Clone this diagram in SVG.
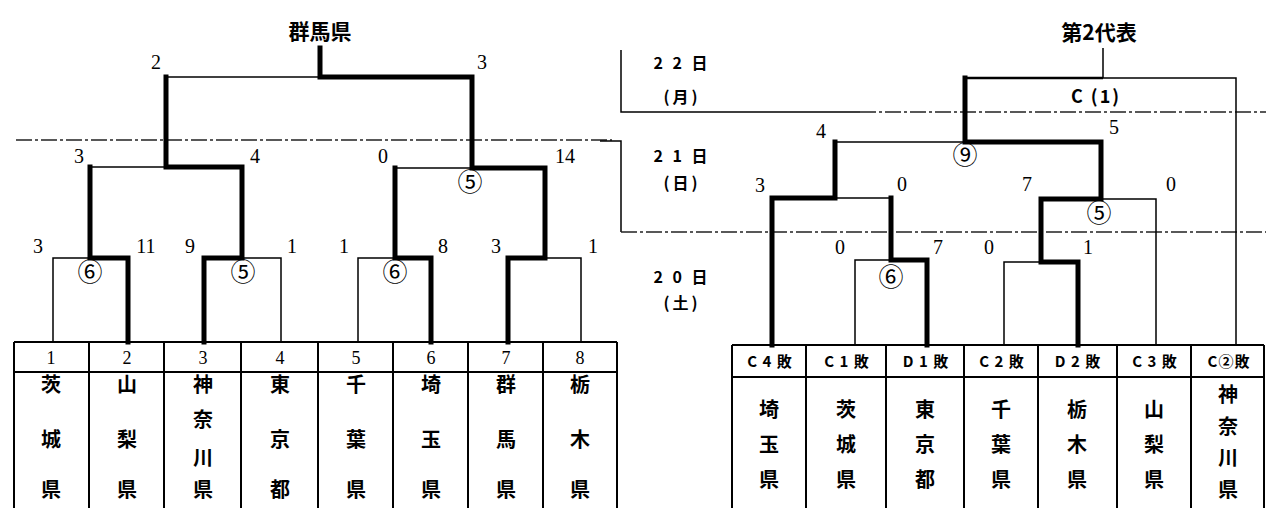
<svg xmlns="http://www.w3.org/2000/svg" width="1266" height="508" viewBox="0 0 1266 508">
<style>
.bg{fill:#fff}
.thick{stroke:#000;stroke-width:5;fill:none;stroke-linejoin:miter;stroke-linecap:square}
.med{stroke:#000;stroke-width:2.5;fill:none}
.thin{stroke:#000;stroke-width:1.5;fill:none}
.dash{stroke:#222;stroke-width:1.5;fill:none;stroke-dasharray:16 3 3 3}
.grid{stroke:#000;stroke-width:2;fill:none}
.sc{font-family:"Liberation Serif",serif;font-size:20px;fill:#000;text-anchor:middle}
.cir{font-family:"Noto Sans CJK JP",sans-serif;font-size:25px;fill:#000;text-anchor:middle}
.jp{font-family:"Noto Sans CJK JP",sans-serif;fill:#000;text-anchor:middle}
.title{font-size:21px;font-weight:bold}
.date{font-size:16px;font-weight:bold;letter-spacing:3px}
.cl{font-size:18px;font-weight:bold;letter-spacing:2px}
.nm{font-size:20px;font-weight:bold}
.hd{font-size:15px;font-weight:bold;letter-spacing:1px}
.num{font-family:"Liberation Serif",serif;font-size:18px;fill:#000;text-anchor:middle}
</style>
<rect class="bg" x="0" y="0" width="1266" height="508"/>

<!-- date separators -->
<g id="date-lines">
<path class="dash" d="M16,140 H612"/>
<path class="thin" d="M600,141 H621 V232"/>
<path class="dash" d="M621,232 H1266"/>
<path class="thin" d="M621,50 V112 H860"/>
<path class="dash" d="M860,112 H1266"/>
</g>
<g id="dates">
<text class="jp date" x="682" y="69">2 2 日</text>
<text class="jp date" x="682" y="103">(月)</text>
<text class="jp date" x="682" y="162">2 1 日</text>
<text class="jp date" x="682" y="189">(日)</text>
<text class="jp date" x="682" y="283">2 0 日</text>
<text class="jp date" x="682" y="309">(土)</text>
</g>

<!-- titles -->
<g id="winner-left"><text class="jp title" x="320" y="39">群馬県</text></g>
<g id="winner-right"><text class="jp title" x="1099" y="40">第2代表</text></g>

<!-- connectors -->
<g id="connectors">
<!-- left bracket -->
<path class="thin" d="M166,77 H320"/>
<path class="thin" d="M90,167 H166"/>
<path class="thin" d="M53,342 V258 H90"/>
<path class="thin" d="M242,258 H281 V342"/>
<path class="thin" d="M358,342 V258 H395"/>
<path class="thin" d="M395,168 H472"/>
<path class="thin" d="M545,258 H581 V342"/>
<path class="thick" d="M320,48 V77 H472 V168 H545 V258 H508 V342"/>
<path class="thick" d="M166,77 V167 H242 V258 H204 V342"/>
<path class="thick" d="M90,167 V258 H128 V342"/>
<path class="thick" d="M395,168 V258 H431 V342"/>
<!-- right bracket -->
<path class="thin" d="M1103,48 V78 H1236 V345"/>
<path class="med" d="M965,78 H1103"/>
<path class="thin" d="M835,142 H965"/>
<path class="thin" d="M835,198 H891"/>
<path class="thin" d="M855,345 V260 H891"/>
<path class="thin" d="M1101,199 H1156 V345"/>
<path class="thin" d="M1004,345 V262 H1041"/>
<path class="thick" d="M772,345 V198 H835 V142"/>
<path class="thick" d="M965,78 V142 H1101 V199 H1041 V262 H1078 V345"/>
<path class="thick" d="M891,198 V260 H927 V345"/>
</g>

<!-- scores -->
<g id="scores">
<text class="sc" x="156" y="69">2</text>
<text class="sc" x="482" y="69">3</text>
<text class="sc" x="79" y="163">3</text>
<text class="sc" x="255" y="163">4</text>
<text class="sc" x="383" y="163">0</text>
<text class="sc" x="565" y="163">14</text>
<text class="sc" x="38" y="253">3</text>
<text class="sc" x="146" y="253">11</text>
<text class="sc" x="190" y="253">9</text>
<text class="sc" x="292" y="253">1</text>
<text class="sc" x="344" y="253">1</text>
<text class="sc" x="443" y="253">8</text>
<text class="sc" x="496" y="253">3</text>
<text class="sc" x="593" y="253">1</text>
<text class="cir" x="90" y="281">⑥</text>
<text class="cir" x="243" y="281">⑤</text>
<text class="cir" x="395" y="281">⑥</text>
<text class="cir" x="470" y="191">⑤</text>

<text class="jp cl" x="1096" y="103">C (1)</text>
<text class="sc" x="821" y="138">4</text>
<text class="sc" x="1114" y="134">5</text>
<text class="sc" x="760" y="192">3</text>
<text class="sc" x="902" y="191">0</text>
<text class="sc" x="1027" y="191">7</text>
<text class="sc" x="1171" y="191">0</text>
<text class="sc" x="840" y="254">0</text>
<text class="sc" x="938" y="254">7</text>
<text class="sc" x="989" y="254">0</text>
<text class="sc" x="1088" y="254">1</text>
<text class="cir" x="965" y="164">⑨</text>
<text class="cir" x="1099" y="222">⑤</text>
<text class="cir" x="891" y="286">⑥</text>
</g>

<!-- left table grid -->
<g id="left-table-grid">
<path class="grid" d="M14,342 H617 M14,372 H617 M14,342 V508 M89,342 V508 M164,342 V508 M241,342 V508 M318,342 V508 M393,342 V508 M468,342 V508 M543,342 V508 M617,342 V508"/>
</g>
<g id="L1"><text class="num" x="51" y="364">1</text><text class="jp nm"><tspan x="51" y="392">茨</tspan><tspan x="51" y="447">城</tspan><tspan x="51" y="497">県</tspan></text></g>
<g id="L2"><text class="num" x="127" y="364">2</text><text class="jp nm"><tspan x="127" y="392">山</tspan><tspan x="127" y="447">梨</tspan><tspan x="127" y="497">県</tspan></text></g>
<g id="L3"><text class="num" x="203" y="364">3</text><text class="jp nm"><tspan x="203" y="392">神</tspan><tspan x="203" y="427">奈</tspan><tspan x="203" y="465">川</tspan><tspan x="203" y="497">県</tspan></text></g>
<g id="L4"><text class="num" x="280" y="364">4</text><text class="jp nm"><tspan x="280" y="392">東</tspan><tspan x="280" y="447">京</tspan><tspan x="280" y="497">都</tspan></text></g>
<g id="L5"><text class="num" x="356" y="364">5</text><text class="jp nm"><tspan x="356" y="392">千</tspan><tspan x="356" y="447">葉</tspan><tspan x="356" y="497">県</tspan></text></g>
<g id="L6"><text class="num" x="431" y="364">6</text><text class="jp nm"><tspan x="431" y="392">埼</tspan><tspan x="431" y="447">玉</tspan><tspan x="431" y="497">県</tspan></text></g>
<g id="L7"><text class="num" x="506" y="364">7</text><text class="jp nm"><tspan x="506" y="392">群</tspan><tspan x="506" y="447">馬</tspan><tspan x="506" y="497">県</tspan></text></g>
<g id="L8"><text class="num" x="580" y="364">8</text><text class="jp nm"><tspan x="580" y="392">栃</tspan><tspan x="580" y="447">木</tspan><tspan x="580" y="497">県</tspan></text></g>

<!-- right table grid -->
<g id="right-table-grid">
<path class="grid" d="M732,345 H1264 M732,377 H1264 M732,345 V508 M806,345 V508 M886,345 V508 M964,345 V508 M1038,345 V508 M1117,345 V508 M1191,345 V508 M1264,345 V508"/>
</g>
<g id="R1"><text class="jp hd" x="770" y="367">C 4 敗</text><text class="jp nm"><tspan x="769" y="417">埼</tspan><tspan x="769" y="452">玉</tspan><tspan x="769" y="487">県</tspan></text></g>
<g id="R2"><text class="jp hd" x="847" y="367">C 1 敗</text><text class="jp nm"><tspan x="846" y="417">茨</tspan><tspan x="846" y="452">城</tspan><tspan x="846" y="487">県</tspan></text></g>
<g id="R3"><text class="jp hd" x="926" y="367">D 1 敗</text><text class="jp nm"><tspan x="925" y="417">東</tspan><tspan x="925" y="452">京</tspan><tspan x="925" y="487">都</tspan></text></g>
<g id="R4"><text class="jp hd" x="1002" y="367">C 2 敗</text><text class="jp nm"><tspan x="1001" y="417">千</tspan><tspan x="1001" y="452">葉</tspan><tspan x="1001" y="487">県</tspan></text></g>
<g id="R5"><text class="jp hd" x="1078" y="367">D 2 敗</text><text class="jp nm"><tspan x="1077" y="417">栃</tspan><tspan x="1077" y="452">木</tspan><tspan x="1077" y="487">県</tspan></text></g>
<g id="R6"><text class="jp hd" x="1155" y="367">C 3 敗</text><text class="jp nm"><tspan x="1154" y="417">山</tspan><tspan x="1154" y="452">梨</tspan><tspan x="1154" y="487">県</tspan></text></g>
<g id="R7"><text class="jp hd" x="1229" y="367">C②敗</text><text class="jp nm"><tspan x="1228" y="402">神</tspan><tspan x="1228" y="434">奈</tspan><tspan x="1228" y="465">川</tspan><tspan x="1228" y="497">県</tspan></text></g>
</svg>
